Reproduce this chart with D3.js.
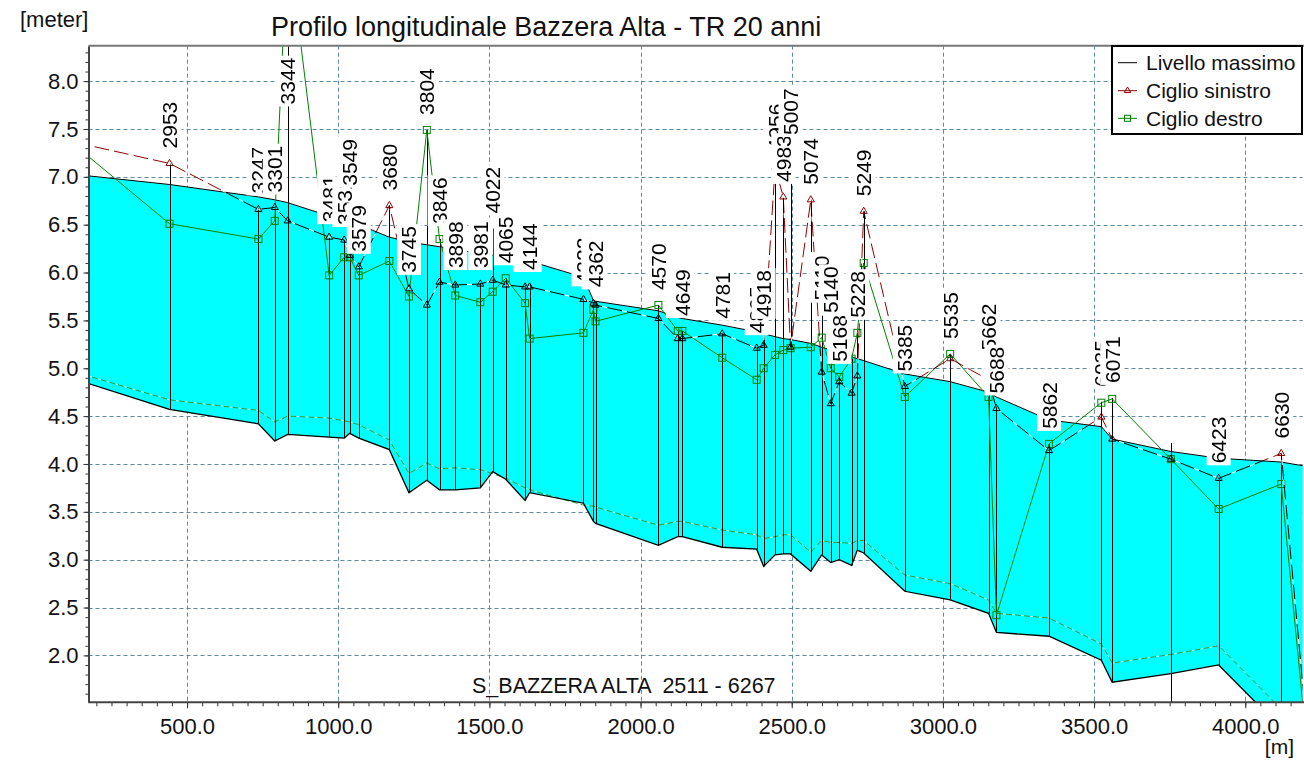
<!DOCTYPE html>
<html><head><meta charset="utf-8">
<script src="https://cdn.jsdelivr.net/npm/d3@7"></script>
<style>
body{margin:0;background:#fff;}
svg{display:block;font-family:"Liberation Sans",Arial,sans-serif;}
</style></head><body>
<svg id="c" width="1304" height="769"></svg>
<script>
// ---------- DATA ----------
const branchStart = 2511;
const chainages = [2640,2953,3247,3301,3344,3481,3531,3549,3579,3680,3745,3804,3846,3898,3981,4022,4065,4129,4144,4322,4355,4362,4570,4634,4649,4781,4895,4918,4956,4983,5007,5074,5110,5140,5168,5209,5228,5249,5385,5535,5662,5688,5862,6035,6071,6265,6423,6630,6760];
const sectionLabels = ["","2953","3247","3301","3344","3481","3531","3549","3579","3680","3745","3804","3846","3898","3981","4022","4065","4129","4144","4322","4355","4362","4570","4634","4649","4781","4895","4918","4956","4983","5007","5074","5110","5140","5168","","5228","5249","5385","5535","5662","5688","5862","6035","6071","","6423","6630",""];
const bedLevel = [4.885,4.57,4.42,4.24,4.31,4.28,4.27,4.32,4.27,4.15,3.70,3.83,3.73,3.73,3.75,3.92,3.84,3.62,3.70,3.59,3.40,3.38,3.15,3.24,3.24,3.13,3.11,2.93,3.05,3.06,3.06,2.88,3.05,2.97,3.00,2.94,3.10,3.07,2.67,2.58,2.44,2.24,2.20,1.95,1.72,1.81,1.90,1.24,-0.8];
const maxWaterLevel = [7.025,6.92,6.79,6.76,6.73,6.59,6.55,6.53,6.50,6.37,6.32,6.29,6.27,6.24,6.20,6.18,6.16,6.13,6.12,5.95,5.71,5.70,5.60,5.53,5.52,5.45,5.38,5.36,5.33,5.31,5.30,5.26,5.22,5.19,5.16,5.12,5.10,5.08,4.94,4.86,4.75,4.70,4.46,4.39,4.26,4.13,4.06,4.02,3.95];
const leftBank = [7.36,7.14,6.66,6.68,6.54,6.37,6.34,6.18,6.06,6.70,5.83,5.66,5.90,5.87,5.88,5.92,5.87,5.85,5.85,5.72,5.68,5.66,5.52,5.31,5.31,5.36,5.21,5.24,7.10,6.79,5.22,6.76,4.96,4.63,4.86,4.74,4.92,6.64,4.81,5.10,4.88,4.58,4.14,4.49,4.26,4.05,3.85,4.11,-0.3];
const rightBank = [7.33,6.51,6.35,6.54,9.50,5.97,6.16,6.16,5.97,6.12,5.75,7.49,6.35,5.76,5.69,5.80,5.94,5.68,5.31,5.37,5.61,5.49,5.66,5.39,5.39,5.11,4.88,5.00,5.14,5.19,5.21,5.22,5.32,5.00,4.91,5.10,5.37,6.10,4.70,5.15,4.70,2.42,4.21,4.64,4.68,4.05,3.53,3.79,-0.4];
const lowerLevel = [4.96,4.67,4.56,4.44,4.50,4.48,4.45,4.44,4.41,4.25,3.90,4.01,3.95,3.96,3.94,3.90,3.85,3.75,3.73,3.57,3.56,3.55,3.36,3.40,3.40,3.31,3.26,3.22,3.24,3.26,3.26,3.08,3.20,3.18,3.18,3.17,3.20,3.20,2.84,2.75,2.58,2.44,2.39,2.12,1.92,2.01,2.10,1.44,-0.5];
const sectionTop = [7.36,7.14,6.67,6.68,9.50,6.37,6.34,6.75,6.06,6.70,5.84,7.49,6.35,5.89,5.89,6.46,5.94,5.87,5.87,5.72,5.69,5.69,5.66,5.39,5.39,5.36,5.21,5.38,7.12,6.79,7.28,6.76,5.55,5.42,4.91,5.10,5.37,6.64,4.81,5.15,5.03,4.58,4.21,4.65,4.69,4.22,3.85,4.11,-0.3];
const junctionChainages = [6265];
const xTicks = [500,1000,1500,2000,2500,3000,3500,4000];
const yTicks = [2.0,2.5,3.0,3.5,4.0,4.5,5.0,5.5,6.0,6.5,7.0,7.5,8.0];
const legendItems = ["Livello massimo","Ciglio sinistro","Ciglio destro"];
const titleText = "Profilo longitudinale Bazzera Alta - TR 20 anni";
const branchText = "S_BAZZERA ALTA  2511 - 6267";

// ---------- SETUP ----------
const plot = {l:88.5, t:45.7, r:1302.7, b:702.3};
const x = d3.scaleLinear().domain([174,4190]).range([plot.l,plot.r]);
const y = d3.scaleLinear().domain([1.51,8.37]).range([plot.b,plot.t]);
const sections = chainages.map((c,i)=>({
  c, d:c-branchStart, label:sectionLabels[i], bed:bedLevel[i], wl:maxWaterLevel[i],
  lb:leftBank[i], rb:rightBank[i], low:lowerLevel[i], top:sectionTop[i]
}));
const LBC = "#900000", RBC = "#008000";
const svg = d3.select("#c");
const px = v => Math.round(v)+0.5;

svg.append("defs").append("clipPath").attr("id","pc").append("rect")
  .attr("x",plot.l).attr("y",plot.t).attr("width",plot.r-plot.l).attr("height",plot.b-plot.t);

// grid
const grid = svg.append("g").attr("stroke","#5b8aa3").attr("stroke-width",1).attr("stroke-dasharray","4,3");
grid.selectAll("line.v").data(xTicks).join("line").attr("class","v")
  .attr("x1",d=>px(x(d))).attr("x2",d=>px(x(d))).attr("y1",plot.t).attr("y2",plot.b);
grid.selectAll("line.h").data(yTicks).join("line").attr("class","h")
  .attr("x1",plot.l).attr("x2",plot.r).attr("y1",d=>px(y(d))).attr("y2",d=>px(y(d)));

const g = svg.append("g").attr("clip-path","url(#pc)");

// water body
g.append("path").datum(sections)
  .attr("d", d3.area().x(d=>x(d.d)).y0(d=>y(d.bed)).y1(d=>y(d.wl)))
  .attr("fill","#00ffff");

// lower dashed green line
const lowLine = d3.line().x(d=>x(d.d)).y(d=>y(d.low));
g.append("path").datum(sections).attr("d",lowLine).attr("fill","none")
  .attr("stroke","#3a9a3a").attr("stroke-width",1).attr("stroke-dasharray","6,3");
g.append("path").datum(sections).attr("d",lowLine).attr("fill","none")
  .attr("stroke","#ffffff").attr("stroke-opacity",0.6).attr("stroke-width",1)
  .attr("stroke-dasharray","3,6").attr("stroke-dashoffset",3);

// vertical section lines
g.selectAll("line.sec").data(sections).join("line").attr("class","sec")
  .attr("x1",d=>px(x(d.d))).attr("x2",d=>px(x(d.d)))
  .attr("y1",d=> junctionChainages.includes(d.c) ? plot.b+5 : y(d.bed))
  .attr("y2",d=>y(d.top))
  .attr("stroke","#000").attr("stroke-width",1);

// bed and water lines
g.append("path").datum(sections).attr("d",d3.line().x(d=>x(d.d)).y(d=>y(d.bed)))
  .attr("fill","none").attr("stroke","#000").attr("stroke-width",1.3);
g.append("path").datum(sections).attr("d",d3.line().x(d=>x(d.d)).y(d=>y(d.wl)))
  .attr("fill","none").attr("stroke","#000").attr("stroke-width",1);

// right bank (green)
g.append("path").datum(sections).attr("d",d3.line().x(d=>x(d.d)).y(d=>y(d.rb)))
  .attr("fill","none").attr("stroke",RBC).attr("stroke-width",1);
g.selectAll("rect.rb").data(sections).join("rect").attr("class","rb")
  .attr("x",d=>x(d.d)-3.5).attr("y",d=>y(d.rb)-3.5).attr("width",7).attr("height",7)
  .attr("fill","none").attr("stroke",RBC).attr("stroke-width",1);

// left bank (dark red, dashed, multiplied)
const lbLine = d3.line().x(d=>x(d.d)).y(d=>y(d.lb));
g.append("path").datum(sections).attr("d",lbLine).attr("fill","none")
  .attr("stroke",LBC).attr("stroke-width",1).attr("stroke-dasharray","15,5")
  .style("mix-blend-mode","multiply");
g.append("path").datum(sections).attr("d",lbLine).attr("fill","none")
  .attr("stroke","#ffffff").attr("stroke-width",1).attr("stroke-dasharray","5,15")
  .attr("stroke-dashoffset",5);
const tri = d3.symbol().type(d3.symbolTriangle).size(22);
g.selectAll("path.lb").data(sections).join("path").attr("class","lb")
  .attr("d",tri).attr("transform",d=>`translate(${x(d.d)},${y(d.lb)})`)
  .attr("fill","none").attr("stroke",LBC).attr("stroke-width",1)
  .style("mix-blend-mode","multiply");

// section labels
const fs = 21;
const labG = g.append("g");
sections.filter(d=>d.label).forEach(d=>{
  const len = d.label.length*0.556*fs;
  let by = y(d.top) - 15;
  const minBy = plot.t + 12 + len;
  if (by < minBy) by = minBy;
  const bx = x(d.d) + 7.5;
  labG.append("rect").attr("x",bx-19.5).attr("y",by-len-2).attr("width",24).attr("height",len+4).attr("fill","#fff");
  labG.append("text").attr("transform",`translate(${bx},${by}) rotate(-90)`)
    .attr("font-size",fs).attr("fill","#000").text(d.label);
});

// axes
const yAxisMinor = d3.range(16,84).map(v=>v/10).filter(v=>v>1.51 && v<8.37);
svg.append("g").attr("transform",`translate(${plot.l},0)`)
  .call(d3.axisLeft(y).tickValues(yAxisMinor).tickFormat("").tickSize(3).tickSizeOuter(0))
  .call(s=>s.select(".domain").remove())
  .selectAll("line").attr("stroke","#333");
const ya = svg.append("g").attr("transform",`translate(${plot.l},0)`)
  .call(d3.axisLeft(y).tickValues(yTicks).tickFormat(d3.format(".1f")).tickSize(5).tickPadding(5).tickSizeOuter(0));
ya.select(".domain").attr("stroke","#444").attr("stroke-width",2);
ya.selectAll("line").attr("stroke","#333");
ya.selectAll("text").attr("font-size",22).attr("font-family","Liberation Sans, Arial, sans-serif").attr("fill","#111");

const xAxisMinor = d3.range(200,4200,50).filter(v=>v>174 && v<4190);
svg.append("g").attr("transform",`translate(0,${plot.b})`)
  .call(d3.axisBottom(x).tickValues(xAxisMinor).tickFormat("").tickSize(4).tickSizeOuter(0))
  .call(s=>s.select(".domain").remove())
  .selectAll("line").attr("stroke","#333");
const xa = svg.append("g").attr("transform",`translate(0,${plot.b})`)
  .call(d3.axisBottom(x).tickValues(xTicks).tickFormat(d3.format(".1f")).tickSize(6).tickPadding(10).tickSizeOuter(0));
xa.select(".domain").attr("stroke","#444").attr("stroke-width",2).attr("d",`M${plot.l},0H1304`);
xa.selectAll("line").attr("stroke","#333");
xa.selectAll("text").attr("font-size",22).attr("font-family","Liberation Sans, Arial, sans-serif").attr("fill","#111");

// top frame
svg.append("line").attr("x1",plot.l).attr("x2",1304).attr("y1",plot.t).attr("y2",plot.t)
  .attr("stroke","#777").attr("stroke-width",2);

// texts
svg.append("text").attr("x",271).attr("y",36).attr("font-size",27).attr("fill","#111").text(titleText);
svg.append("text").attr("x",20).attr("y",27).attr("font-size",22).attr("fill","#111").text("[meter]");
svg.append("text").attr("x",1294).attr("y",754).attr("text-anchor","end").attr("font-size",21).attr("fill","#111").text("[m]");
svg.append("text").attr("x",472).attr("y",693).attr("font-size",21.5).attr("fill","#111")
  .style("white-space","pre").text(branchText);

// legend
const lg = svg.append("g");
lg.append("rect").attr("x",1112).attr("y",46).attr("width",190).attr("height",88)
  .attr("fill","#fff").attr("stroke","#000").attr("stroke-width",2);
const rowY = [62.7,90.7,118.3];
const legColors = ["#000",LBC,RBC];
legendItems.forEach((t,i)=>{
  lg.append("line").attr("x1",1118).attr("x2",1137).attr("y1",rowY[i]).attr("y2",rowY[i])
    .attr("stroke",legColors[i]).attr("stroke-width",1);
  if(i===1) lg.append("path").attr("d",d3.symbol().type(d3.symbolTriangle).size(18))
    .attr("transform",`translate(1127.5,${rowY[i]})`).attr("fill","none").attr("stroke",LBC);
  if(i===2) lg.append("rect").attr("x",1124.5).attr("y",rowY[i]-3).attr("width",6).attr("height",6)
    .attr("fill","none").attr("stroke",RBC);
  lg.append("text").attr("x",1146).attr("y",rowY[i]+7.5).attr("font-size",21).attr("fill","#111").text(t);
});
</script>
</body></html>
